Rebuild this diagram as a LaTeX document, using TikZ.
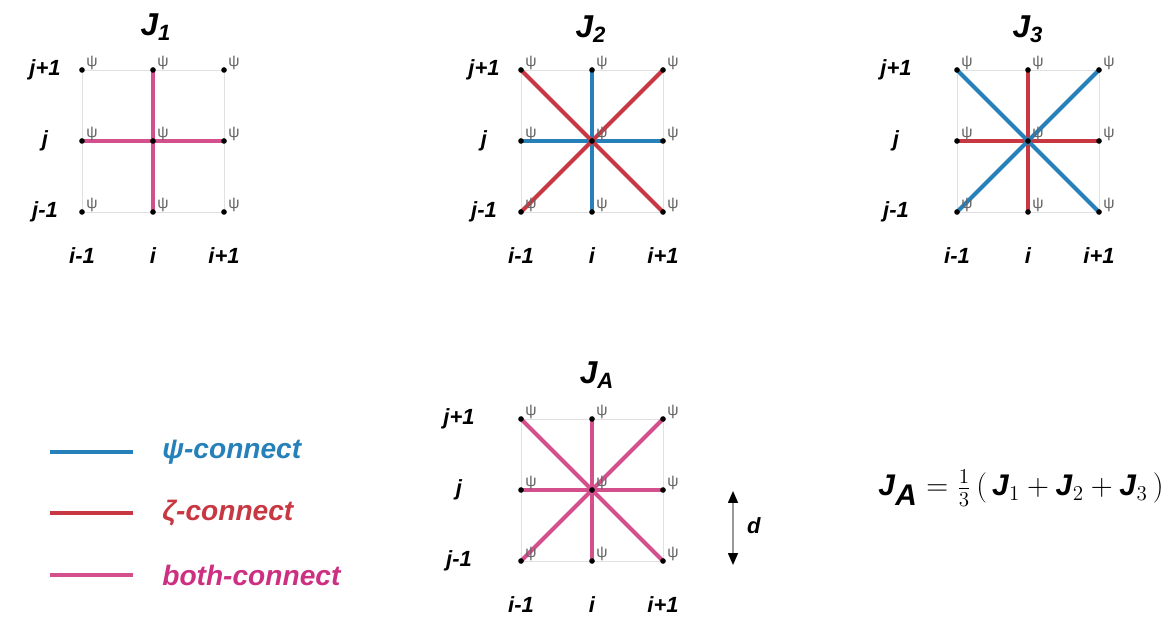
\documentclass[tikz,border=0pt]{standalone}
\usepackage{fontspec}
\setmainfont{Liberation Sans}
\usetikzlibrary{arrows.meta,calc,backgrounds}
\definecolor{psiblue}{RGB}{38,128,186}
\definecolor{zetared}{RGB}{200,56,66}
\definecolor{bothpink}{RGB}{212,80,140}
\definecolor{bothtext}{RGB}{205,48,128}
\tikzset{
  site/.style       = {circle, fill=black, inner sep=0pt, minimum size=3.2pt},
  gridline/.style   = {line width=0.5pt, black!12},
  psibond/.style    = {line width=2.3pt, psiblue},
  zetabond/.style   = {line width=2.3pt, zetared},
  bothbond/.style   = {line width=2.3pt, bothpink},
  psilabel/.style   = {font=\fontsize{9}{10}\selectfont, text=black!60, inner sep=0pt, anchor=south west},
  idxlabel/.style   = {font=\fontsize{12.5}{14}\selectfont\bfseries\itshape, inner sep=1pt},
  paneltitle/.style = {font=\fontsize{18}{20}\selectfont\bfseries\itshape},
  legendtext/.style = {font=\fontsize{16}{18}\selectfont\bfseries\itshape, anchor=west, inner sep=0pt},
  eqn/.style        = {font=\fontsize{17}{19}\selectfont, anchor=west, inner sep=0pt},
  darrow/.style     = {{Triangle[length=2.4mm,width=2mm,color=black]}-{Triangle[length=2.4mm,width=2mm,color=black]},
                       line width=0.9pt, black!40},
}

\begin{document}
\begin{tikzpicture}[x=0.02cm, y=-0.02cm]
  \useasboundingbox (0,0) rectangle (1172,617);

  % the four lattices: name / left x / top y / offset of the row labels
  \foreach \p/\x/\y/\off in {1/82/70/37, 2/521/70/37, 3/957/70/61, A/521/419/62}{
    \foreach \c in {0,1,2}
      \foreach \r in {0,1,2}{
        \node[site] (s\p-\c\r) at (\x+71*\c, \y+71*\r) {};
        \node[psilabel] (psi\p-\c\r) at ($(s\p-\c\r)+(4,0)$) {ψ};
      }
    \foreach \r/\t in {0/j+1, 1/j, 2/j-1}
      \node[idxlabel] (row\p-\r) at (\x-\off, \y+71*\r) {\t};
    \foreach \c/\t in {0/i-1, 1/i, 2/i+1}
      \node[idxlabel] (col\p-\c) at (\x+71*\c, \y+186) {\t};
    \begin{pgfonlayer}{background}
      \draw[gridline] (s\p-00.center) rectangle (s\p-22.center);
      \draw[gridline] (s\p-10.center) -- (s\p-12.center);
      \draw[gridline] (s\p-01.center) -- (s\p-21.center);
    \end{pgfonlayer}
  }

  \node[paneltitle] (t1) at (156,27) {J\textsubscript{1}};
  \node[paneltitle] (t2) at (591,29) {J\textsubscript{2}};
  \node[paneltitle] (t3) at (1028,29) {J\textsubscript{3}};
  \node[paneltitle] (tA) at (597,375) {J\textsubscript{A}};

  \begin{pgfonlayer}{background}
    % J1
    \draw[bothbond] (s1-01.center) -- (s1-21.center);
    \draw[bothbond] (s1-10.center) -- (s1-12.center);
    % J2
    \draw[psibond]  (s2-01.center) -- (s2-21.center);
    \draw[psibond]  (s2-10.center) -- (s2-12.center);
    \draw[zetabond] (s2-00.center) -- (s2-22.center);
    \draw[zetabond] (s2-20.center) -- (s2-02.center);
    % J3
    \draw[zetabond] (s3-01.center) -- (s3-21.center);
    \draw[zetabond] (s3-10.center) -- (s3-12.center);
    \draw[psibond]  (s3-00.center) -- (s3-22.center);
    \draw[psibond]  (s3-20.center) -- (s3-02.center);
    % JA
    \draw[bothbond] (sA-01.center) -- (sA-21.center);
    \draw[bothbond] (sA-10.center) -- (sA-12.center);
    \draw[bothbond] (sA-00.center) -- (sA-22.center);
    \draw[bothbond] (sA-20.center) -- (sA-02.center);
  \end{pgfonlayer}

  % legend
  \node[legendtext, text=psiblue]  (lgpsi)  at (162,452) {ψ-connect};
  \node[legendtext, text=zetared]  (lgzeta) at (162,513) {ζ-connect};
  \node[legendtext, text=bothtext] (lgboth) at (162,575) {both-connect};
  \draw[psibond]  ($(lgpsi.west)+(-112,0)$)  -- ($(lgpsi.west)+(-29,0)$);
  \draw[zetabond] ($(lgzeta.west)+(-112,0)$) -- ($(lgzeta.west)+(-29,0)$);
  \draw[bothbond] ($(lgboth.west)+(-112,0)$) -- ($(lgboth.west)+(-29,0)$);

  % spacing d
  \coordinate (dtop) at (733,491);
  \coordinate (dbot) at (733,565);
  \draw[darrow] (dtop) -- (dbot);
  \node[idxlabel, anchor=west] (dlab) at (745,526) {d};

  \node[eqn] (eq) at (878,488)
    {$\textbf{\textit{J}}_{\textbf{\textit{A}}} = \frac{1}{3}\,(\,\textbf{\textit{J}}_1
      + \textbf{\textit{J}}_2 + \textbf{\textit{J}}_3\,)$};
\end{tikzpicture}
\end{document}
